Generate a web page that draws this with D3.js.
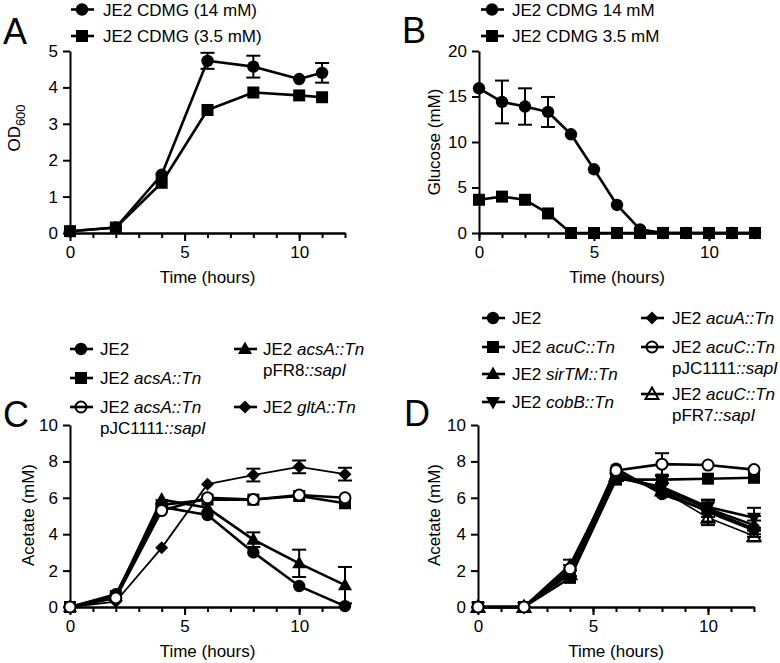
<!DOCTYPE html>
<html><head><meta charset="utf-8">
<script src="https://cdn.jsdelivr.net/npm/d3@7"></script>
<style>body{margin:0;background:#fff} text{font-family:"Liberation Sans",Arial,Helvetica,sans-serif;fill:#000}</style>
</head><body><svg id="c" width="780" height="663"></svg>
<script>
// ---------- DATA ----------
const timeA = [0, 2, 4, 6, 8, 10, 11];
const odA14 = [0.05, 0.15, 1.6, 4.73, 4.57, 4.23, 4.4];
const odA14Err = [0, 0, 0, 0.22, 0.3, 0, 0.27];
const odA35 = [0.05, 0.15, 1.38, 3.38, 3.86, 3.78, 3.73];
const odA35Err = [0, 0, 0, 0, 0, 0, 0];

const timeB = [0, 1, 2, 3, 4, 5, 6, 7, 8, 9, 10, 11, 12];
const glucB14 = [15.9, 14.4, 13.9, 13.3, 10.85, 7.0, 3.08, 0.4, 0, 0, 0, 0, 0];
const glucB14Err = [0, 2.35, 2.0, 1.65, 0, 0, 0, 0, 0, 0, 0, 0, 0];
const glucB35 = [3.65, 4.0, 3.65, 2.15, 0, 0, 0, 0, 0, 0, 0, 0, 0];
const glucB35Err = [0, 0, 0, 0, 0, 0, 0, 0, 0, 0, 0, 0, 0];

const timeC = [0, 2, 4, 6, 8, 10, 12];
const acC_JE2 = [0, 0.7, 5.5, 5.05, 3.0, 1.15, 0.05];
const acC_acsA = [0, 0.6, 5.6, 5.9, 5.9, 6.1, 5.7];
const acC_acsA_pJC = [0, 0.5, 5.3, 6.0, 5.9, 6.15, 6.0];
const acC_acsA_pFR8 = [0, 0.6, 5.9, 5.45, 3.7, 2.4, 1.2];
const acC_acsA_pFR8Err = [0, 0, 0, 0, 0.4, 0.75, 1.0];
const acC_gltA = [0, 0.3, 3.25, 6.75, 7.25, 7.7, 7.3];
const acC_gltAErr = [0, 0, 0, 0, 0.35, 0.35, 0.35];

const timeD = [0, 2, 4, 6, 8, 10, 12];
const acD_JE2 = [0, 0, 2.0, 7.6, 6.2, 5.3, 4.3];
const acD_JE2Err = [0, 0, 0.3, 0, 0, 0.6, 0.45];
const acD_acuC = [0, 0, 1.6, 7.0, 7.0, 7.05, 7.1];
const acD_acuCErr = [0, 0, 0, 0, 0.2, 0, 0];
const acD_sirTM = [0, 0, 2.3, 7.3, 6.5, 5.4, 4.5];
const acD_sirTMErr = [0, 0, 0.3, 0, 0, 0.45, 0.5];
const acD_cobB = [0, 0, 1.9, 7.1, 6.6, 5.5, 4.9];
const acD_cobBErr = [0, 0, 0, 0, 0, 0.35, 0.55];
const acD_acuA = [0, 0, 2.0, 7.4, 6.4, 5.2, 4.2];
const acD_acuC_pJC = [0, 0, 2.1, 7.5, 7.85, 7.8, 7.55];
const acD_acuC_pJCErr = [0, 0, 0, 0, 0.6, 0, 0];
const acD_acuC_pFR7 = [0, 0, 1.8, 7.2, 6.4, 4.9, 3.9];
const acD_acuC_pFR7Err = [0, 0, 0, 0, 0, 0.4, 0.3];

const xTicksMajor = [0, 5, 10];
const xTicksMinor = d3.range(0, 13);
const yTicksA = [0, 1, 2, 3, 4, 5];
const yTicksB = [0, 5, 10, 15, 20];
const yTicksCD = [0, 2, 4, 6, 8, 10];

// ---------- DRAW ----------
const svg = d3.select("#c");

function markerPath(type) {
  switch (type) {
    case "square": return "M-6,-6H6V6H-6Z";
    case "triUp": return "M0,-7.5L7,5L-7,5Z";
    case "triDown": return "M0,7.5L7,-5L-7,-5Z";
    case "diamond": return "M0,-6.5L6.5,0L0,6.5L-6.5,0Z";
    case "oTri": return "M0,-6.5L6.5,5L-6.5,5Z";
  }
  return null;
}
function drawMarker(g, type, cx, cy, legend) {
  const open = type === "oCircle" || type === "oTri";
  const fill = open ? (legend ? "none" : "#fff") : "#000";
  if (type === "circle" || type === "oCircle") {
    g.append("circle").attr("cx", cx).attr("cy", cy).attr("r", open ? 5.5 : 6.2)
      .attr("fill", fill).attr("stroke", "#000").attr("stroke-width", open ? 2 : 0);
  } else {
    g.append("path").attr("d", markerPath(type)).attr("transform", `translate(${cx},${cy})`)
      .attr("fill", fill).attr("stroke", "#000").attr("stroke-width", open ? 2 : 0)
      .attr("stroke-linejoin", "miter");
  }
}

function panel(cfg) {
  const x = d3.scaleLinear().domain([0, 12]).range(cfg.xr);
  const y = d3.scaleLinear().domain(cfg.yd).range(cfg.yr);
  const g = svg.append("g");
  const fmt = d3.format("~g");
  // axes
  const ax = g.append("g").attr("transform", `translate(0,${cfg.yr[0]})`)
    .call(d3.axisBottom(x).tickValues(xTicksMajor).tickFormat(fmt).tickSize(8).tickSizeOuter(0).tickPadding(5));
  const axm = g.append("g").attr("transform", `translate(0,${cfg.yr[0]})`)
    .call(d3.axisBottom(x).tickValues(xTicksMinor).tickSize(5).tickSizeOuter(0).tickFormat(""));
  const ay = g.append("g").attr("transform", `translate(${cfg.xr[0]},0)`)
    .call(d3.axisLeft(y).tickValues(cfg.yt).tickFormat(fmt).tickSize(7).tickSizeOuter(0).tickPadding(5));
  [ax, axm, ay].forEach(a => {
    a.select(".domain").attr("stroke", "#000").attr("stroke-width", 2);
    a.selectAll(".tick line").attr("stroke", "#000").attr("stroke-width", 2);
    a.selectAll("text").attr("font-size", 17).attr("fill", "#000")
      .attr("font-family", '"Liberation Sans",Arial,sans-serif');
  });
  ax.selectAll("text").attr("dy", "0.71em");
  // x title
  g.append("text").attr("x", (cfg.xr[0] + cfg.xr[1]) / 2).attr("y", cfg.yr[0] + 50)
    .attr("text-anchor", "middle").attr("font-size", 17).text("Time (hours)");
  // y title
  const yt = g.append("text").attr("transform", `translate(${cfg.ytx},${cfg.yty}) rotate(-90)`)
    .attr("text-anchor", "middle").attr("font-size", 17);
  cfg.ytitle(yt);
  // panel letter
  g.append("text").attr("x", cfg.letter[0]).attr("y", cfg.letter[1]).attr("font-size", 36).text(cfg.letter[2]);
  // series
  cfg.series.forEach(s => {
    const pts = s.t.map((t, i) => [t, s.v[i], s.e ? s.e[i] : 0]);
    g.append("path").datum(pts)
      .attr("d", d3.line().x(d => x(d[0])).y(d => y(d[1])))
      .attr("fill", "none").attr("stroke", "#000").attr("stroke-width", s.lw || 2.6)
      .attr("stroke-linejoin", "round");
    pts.filter(d => d[2] > 0).forEach(d => {
      const cx = x(d[0]), y1 = y(d[1] + d[2]), y2 = y(Math.max(0, d[1] - d[2]));
      g.append("line").attr("x1", cx).attr("x2", cx).attr("y1", y1).attr("y2", y2)
        .attr("stroke", "#000").attr("stroke-width", 2);
      [y1, y2].forEach(yy => g.append("line").attr("x1", cx - 7).attr("x2", cx + 7)
        .attr("y1", yy).attr("y2", yy).attr("stroke", "#000").attr("stroke-width", 2));
    });
    pts.forEach(d => drawMarker(g, s.m, x(d[0]), y(d[1]), false));
  });
  // legend
  cfg.legend.forEach(l => {
    const lg = g.append("g");
    lg.append("line").attr("x1", l.x - 11).attr("x2", l.x + 12).attr("y1", l.y).attr("y2", l.y)
      .attr("stroke", "#000").attr("stroke-width", 2.6);
    drawMarker(lg, l.m, l.x, l.y, true);
    l.lines.forEach((ln, k) => {
      const t = lg.append("text").attr("x", l.tx).attr("y", l.y + 6 + k * 21).attr("font-size", 17);
      ln.forEach(part => t.append("tspan").attr("font-style", part[1] ? "italic" : "normal").text(part[0]));
    });
  });
}

// Panel A
panel({
  xr: [70, 345], yr: [233, 51], yd: [0, 5], yt: yTicksA,
  ytx: 20, yty: 128,
  ytitle: t => { t.append("tspan").text("OD"); t.append("tspan").attr("font-size", 13).attr("dy", 5).text("600"); },
  letter: [3, 44, "A"],
  series: [
    { t: timeA, v: odA14, e: odA14Err, m: "circle" },
    { t: timeA, v: odA35, e: odA35Err, m: "square" }
  ],
  legend: [
    { m: "circle", x: 82, y: 9.5, tx: 103, lines: [[["JE2 CDMG (14 mM)", false]]] },
    { m: "square", x: 82, y: 36, tx: 103, lines: [[["JE2 CDMG (3.5 mM)", false]]] }
  ]
});

// Panel B
panel({
  xr: [479, 755], yr: [233, 51], yd: [0, 20], yt: yTicksB,
  ytx: 440, yty: 142,
  ytitle: t => t.text("Glucose (mM)"),
  letter: [402, 43, "B"],
  series: [
    { t: timeB, v: glucB14, e: glucB14Err, m: "circle" },
    { t: timeB, v: glucB35, e: glucB35Err, m: "square" }
  ],
  legend: [
    { m: "circle", x: 492, y: 9.5, tx: 512, lines: [[["JE2 CDMG 14 mM", false]]] },
    { m: "square", x: 492, y: 36, tx: 512, lines: [[["JE2 CDMG 3.5 mM", false]]] }
  ]
});

// Panel C
panel({
  xr: [70, 345], yr: [607, 425], yd: [0, 10], yt: yTicksCD,
  ytx: 34, yty: 515,
  ytitle: t => t.text("Acetate (mM)"),
  letter: [3, 427, "C"],
  series: [
    { t: timeC, v: acC_gltA, e: acC_gltAErr, m: "diamond", lw: 1.8 },
    { t: timeC, v: acC_acsA_pFR8, e: acC_acsA_pFR8Err, m: "triUp" },
    { t: timeC, v: acC_JE2, m: "circle" },
    { t: timeC, v: acC_acsA, m: "square" },
    { t: timeC, v: acC_acsA_pJC, m: "oCircle" }
  ],
  legend: [
    { m: "circle", x: 81, y: 349, tx: 100, lines: [[["JE2", false]]] },
    { m: "square", x: 81, y: 378, tx: 100, lines: [[["JE2 ", false], ["acsA::Tn", true]]] },
    { m: "oCircle", x: 81, y: 407, tx: 100, lines: [[["JE2 ", false], ["acsA::Tn", true]], [["pJC1111", false], ["::sapI", true]]] },
    { m: "triUp", x: 245, y: 349, tx: 263, lines: [[["JE2 ", false], ["acsA::Tn", true]], [["pFR8", false], ["::sapI", true]]] },
    { m: "diamond", x: 245, y: 407, tx: 263, lines: [[["JE2 ", false], ["gltA::Tn", true]]] }
  ]
});

// Panel D
panel({
  xr: [478, 754], yr: [607, 425], yd: [0, 10], yt: yTicksCD,
  ytx: 440, yty: 515,
  ytitle: t => t.text("Acetate (mM)"),
  letter: [404, 426, "D"],
  series: [
    { t: timeD, v: acD_acuC_pFR7, e: acD_acuC_pFR7Err, m: "oTri", lw: 1.6 },
    { t: timeD, v: acD_acuA, m: "diamond", lw: 2 },
    { t: timeD, v: acD_cobB, e: acD_cobBErr, m: "triDown" },
    { t: timeD, v: acD_sirTM, e: acD_sirTMErr, m: "triUp" },
    { t: timeD, v: acD_JE2, e: acD_JE2Err, m: "circle" },
    { t: timeD, v: acD_acuC, e: acD_acuCErr, m: "square" },
    { t: timeD, v: acD_acuC_pJC, e: acD_acuC_pJCErr, m: "oCircle" }
  ],
  legend: [
    { m: "circle", x: 493, y: 318, tx: 512, lines: [[["JE2", false]]] },
    { m: "square", x: 493, y: 347, tx: 512, lines: [[["JE2 ", false], ["acuC::Tn", true]]] },
    { m: "triUp", x: 493, y: 374, tx: 512, lines: [[["JE2 ", false], ["sirTM::Tn", true]]] },
    { m: "triDown", x: 493, y: 402, tx: 512, lines: [[["JE2 ", false], ["cobB::Tn", true]]] },
    { m: "diamond", x: 652, y: 318, tx: 672, lines: [[["JE2 ", false], ["acuA::Tn", true]]] },
    { m: "oCircle", x: 652, y: 347, tx: 672, lines: [[["JE2 ", false], ["acuC::Tn", true]], [["pJC1111", false], ["::sapI", true]]] },
    { m: "oTri", x: 652, y: 394, tx: 672, lines: [[["JE2 ", false], ["acuC::Tn", true]], [["pFR7", false], ["::sapI", true]]] }
  ]
});
</script></body></html>
